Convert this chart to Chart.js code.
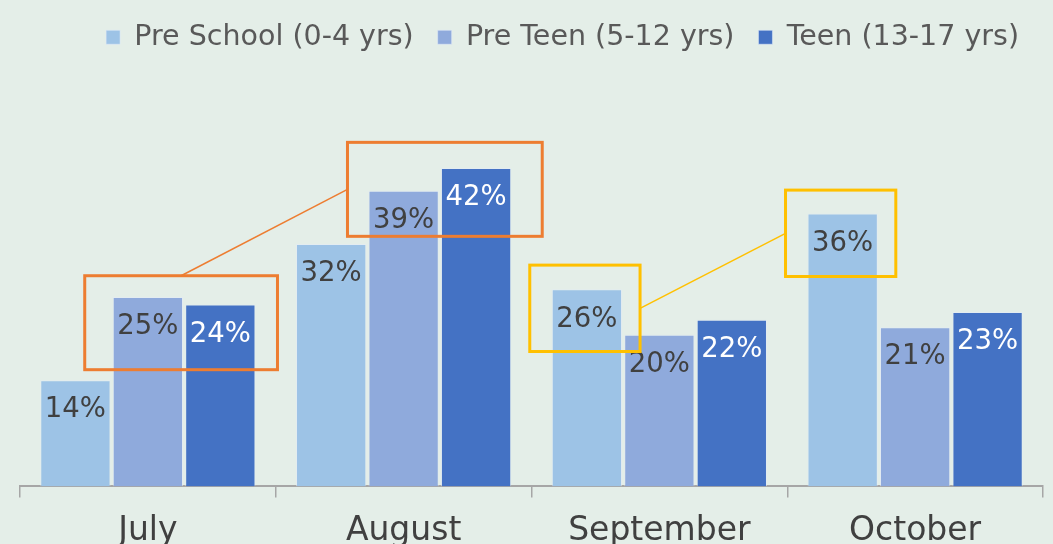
<!DOCTYPE html>
<html>
<head>
<meta charset="utf-8">
<script src="https://cdn.jsdelivr.net/npm/chart.js@4.4.1/dist/chart.umd.min.js"></script>
<style>
  html, body { margin: 0; padding: 0; overflow: hidden; background: #e4eee8; }
  #wrap { width: 1053px; height: 565px; position: relative; }
</style>
</head>
<body>
<div id="wrap"><canvas id="ageChart"></canvas></div>
<script>
const months = ['July', 'August', 'September', 'October'];
const seriesNames = ['Pre School (0-4 yrs)', 'Pre Teen (5-12 yrs)', 'Teen (13-17 yrs)'];
const preSchool = [14, 32, 26, 36];
const preTeen = [25, 39, 20, 21];
const teen = [24, 42, 22, 23];

const seriesColors = ['#9dc3e6', '#8faadc', '#4472c4'];
const labelColors = ['#404040', '#404040', '#ffffff'];

// highlight boxes: month index, series span, value range covered
const highlightBoxes = [
  { month: 0, from: 1, to: 2, top: 27.8, bottom: 15.4, padL: 28, padR: 22, color: '#ed7d31' },
  { month: 1, from: 1, to: 2, top: 45.4, bottom: 33.0, padL: 21, padR: 31, color: '#ed7d31' },
  { month: 2, from: 0, to: 0, top: 29.2, bottom: 17.8, padL: 22, padR: 18, color: '#ffc000' },
  { month: 3, from: 0, to: 0, top: 39.1, bottom: 27.7, padL: 22, padR: 18, color: '#ffc000' }
];
const connectors = [
  { from: 0, fromSide: 'top', to: 1, toSide: 'left', color: '#ed7d31' },
  { from: 2, fromSide: 'right', to: 3, toSide: 'left', color: '#ffc000' }
];

// leave a gap under the legend like the original
const legendGap = {
  id: 'legendGap',
  beforeInit(chart) {
    const fit = chart.legend.fit;
    chart.legend.fit = function () {
      fit.bind(chart.legend)();
      this.height += 46;
    };
  }
};

const valueLabels = {
  id: 'valueLabels',
  afterDatasetsDraw(chart) {
    const ctx = chart.ctx;
    ctx.save();
    ctx.font = '27.5px "DejaVu Sans"';
    ctx.textAlign = 'center';
    ctx.textBaseline = 'middle';
    chart.data.datasets.forEach((ds, i) => {
      chart.getDatasetMeta(i).data.forEach((bar, j) => {
        ctx.fillStyle = labelColors[i];
        ctx.fillText(ds.data[j] + '%', bar.x, bar.y + 30);
      });
    });
    ctx.restore();
  }
};

const highlights = {
  id: 'highlights',
  afterDatasetsDraw(chart) {
    const ctx = chart.ctx;
    const y = chart.scales.y;
    const rects = highlightBoxes.map(b => {
      const first = chart.getDatasetMeta(b.from).data[b.month];
      const last = chart.getDatasetMeta(b.to).data[b.month];
      const left = first.x - first.width / 2 - b.padL;
      const right = last.x + last.width / 2 + b.padR;
      const top = y.getPixelForValue(b.top);
      const bottom = y.getPixelForValue(b.bottom);
      return { left, right, top, bottom, color: b.color };
    });
    ctx.save();
    rects.forEach(r => {
      ctx.strokeStyle = r.color;
      ctx.lineWidth = 3;
      ctx.strokeRect(r.left, r.top, r.right - r.left, r.bottom - r.top);
    });
    const anchor = (r, side) => {
      if (side === 'top') return [(r.left + r.right) / 2, r.top];
      if (side === 'left') return [r.left, (r.top + r.bottom) / 2];
      return [r.right, (r.top + r.bottom) / 2];
    };
    connectors.forEach(c => {
      const a = anchor(rects[c.from], c.fromSide);
      const b = anchor(rects[c.to], c.toSide);
      ctx.strokeStyle = c.color;
      ctx.lineWidth = 1.5;
      ctx.beginPath();
      ctx.moveTo(a[0], a[1]);
      ctx.lineTo(b[0], b[1]);
      ctx.stroke();
    });
    ctx.restore();
  }
};

const dataSeries = [preSchool, preTeen, teen];

new Chart(document.getElementById('ageChart'), {
  type: 'bar',
  data: {
    labels: months,
    datasets: dataSeries.map((values, i) => ({
      label: seriesNames[i],
      data: values,
      backgroundColor: seriesColors[i],
      borderColor: 'rgba(225, 235, 248, 0.55)',
      borderWidth: 1,
      categoryPercentage: 0.85,
      barPercentage: 0.97
    }))
  },
  options: {
    responsive: true,
    maintainAspectRatio: false,
    animation: false,
    layout: { padding: { left: 20, right: 10, top: -1, bottom: 0 } },
    plugins: {
      legend: {
        position: 'top',
        align: 'end',
        labels: {
          font: { family: 'DejaVu Sans', size: 28.5 },
          color: '#595959',
          boxWidth: 14,
          boxHeight: 14,
          padding: 24
        }
      },
      tooltip: { enabled: false }
    },
    scales: {
      x: {
        grid: {
          drawOnChartArea: false,
          drawTicks: true,
          tickLength: 11,
          color: '#a6a6a6',
          lineWidth: 1.5
        },
        border: { display: true, color: '#a6a6a6', width: 2 },
        ticks: {
          color: '#404040',
          font: { family: 'DejaVu Sans', size: 33 },
          padding: 14
        }
      },
      y: {
        display: false,
        min: 0,
        max: 50
      }
    }
  },
  plugins: [legendGap, valueLabels, highlights]
});
</script>
</body>
</html>
